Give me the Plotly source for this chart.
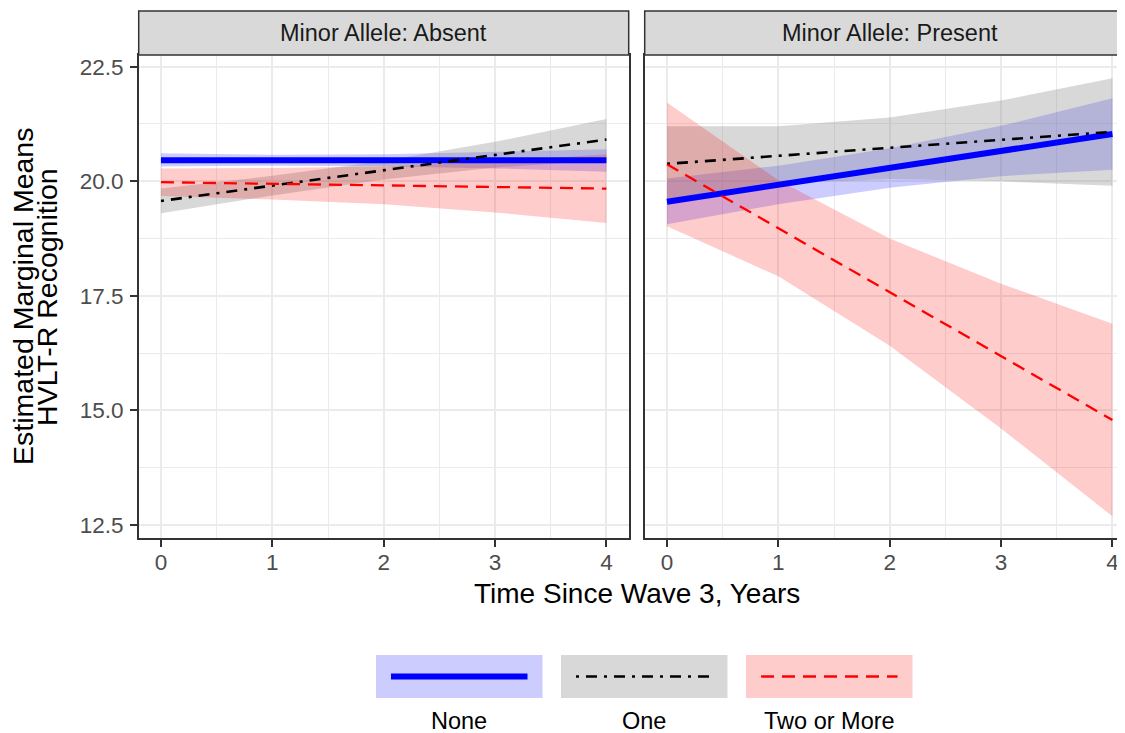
import plotly.graph_objects as go

# ---------------- data ----------------
time_years = [0, 1, 2, 3, 4]
groups = ["None", "One", "Two or More"]
panels = ["Minor Allele: Absent", "Minor Allele: Present"]

# Panel: Minor Allele Absent
absent_none_mean = [20.46, 20.46, 20.46, 20.46, 20.46]
absent_none_low = [20.32, 20.34, 20.33, 20.28, 20.21]
absent_none_high = [20.61, 20.58, 20.59, 20.64, 20.70]

absent_one_mean = [19.57, 19.905, 20.24, 20.575, 20.91]
absent_one_low = [19.30, 19.69, 20.04, 20.30, 20.46]
absent_one_high = [19.84, 20.12, 20.44, 20.86, 21.36]

absent_two_mean = [19.98, 19.945, 19.91, 19.875, 19.84]
absent_two_low = [19.68, 19.60, 19.50, 19.32, 19.09]
absent_two_high = [20.28, 20.29, 20.32, 20.43, 20.59]

# Panel: Minor Allele Present
present_none_mean = [19.555, 19.92, 20.29, 20.66, 21.03]
present_none_low = [19.06, 19.50, 19.86, 20.11, 20.25]
present_none_high = [20.06, 20.34, 20.72, 21.21, 21.81]

present_one_mean = [20.38, 20.555, 20.73, 20.905, 21.08]
present_one_low = [19.56, 19.95, 20.05, 20.00, 19.90]
present_one_high = [21.20, 21.20, 21.39, 21.76, 22.25]

present_two_mean = [20.37, 18.975, 17.58, 16.185, 14.79]
present_two_low = [19.02, 17.925, 16.41, 14.605, 12.69]
present_two_high = [21.72, 20.025, 18.75, 17.765, 16.89]

x_ticks = [0, 1, 2, 3, 4]
x_ticktext = ["0", "1", "2", "3", "4"]
y_ticks = [12.5, 15.0, 17.5, 20.0, 22.5]
y_ticktext = ["12.5", "15.0", "17.5", "20.0", "22.5"]

x_title = "Time Since Wave 3, Years"
y_title_lines = ["Estimated Marginal Means", "HVLT-R Recognition"]

# ---------------- styles ----------------
SCREEN_W, SCREEN_H = 1125, 733
OFF = 8  # default page body margin
FW, FH = SCREEN_W - OFF, SCREEN_H - OFF
FONT = "Liberation Sans, Arial, Helvetica, sans-serif"
line_styles = {
    "None": dict(color="#0000ff", width=6, dash="solid"),
    "One": dict(color="#000000", width=2.6, dash="3px,7px,11px,7px"),
    "Two or More": dict(color="#ff0000", width=2.3, dash="13px,8px"),
}
fill_colors = {
    "None": "rgba(0,0,255,0.2)",
    "One": "rgba(127,127,127,0.3)",
    "Two or More": "rgba(255,0,0,0.2)",
}

data = {
    ("x", "y"): {
        "None": (absent_none_mean, absent_none_low, absent_none_high),
        "One": (absent_one_mean, absent_one_low, absent_one_high),
        "Two or More": (absent_two_mean, absent_two_low, absent_two_high),
    },
    ("x2", "y2"): {
        "None": (present_none_mean, present_none_low, present_none_high),
        "One": (present_one_mean, present_one_low, present_one_high),
        "Two or More": (present_two_mean, present_two_low, present_two_high),
    },
}

def px(v):
    return (v - OFF) / FW

def py(v):
    return 1 - (v - OFF) / FH

fig = go.Figure()

for (xa, ya), series in data.items():
    for g in groups:
        m, lo, hi = series[g]
        fig.add_trace(go.Scatter(
            x=time_years + time_years[::-1],
            y=hi + lo[::-1],
            fill="toself", fillcolor=fill_colors[g],
            line=dict(width=0), mode="lines",
            hoverinfo="skip", showlegend=False,
            xaxis=xa, yaxis=ya,
        ))
    for g in groups:
        m, lo, hi = series[g]
        fig.add_trace(go.Scatter(
            x=time_years, y=m, mode="lines",
            line=line_styles[g], name=g, showlegend=False,
            xaxis=xa, yaxis=ya,
        ))

# panel geometry (screen pixels)
p1_l, p1_r = 138.7, 628.7
p2_l = 644.7
p_top, p_bot = 55.0, 538.3
strip_top = 11.0
unit = (p1_r - p1_l) / 4.4
x2_max = -0.2 + (SCREEN_W - p2_l) / unit
p2_full_r = p2_l + 4.4 * unit

y_lo = 12.5 - (p_bot - 525.0) / 45.83
y_hi = 22.5 + (66.7 - p_top) / 45.83

grid_major = "#ebebeb"
border = "#333333"
tickfont = dict(family=FONT, size=22.5, color="#4d4d4d")

common_x = dict(
    showgrid=True, gridcolor=grid_major, gridwidth=2,
    zeroline=False, showline=True, linecolor=border, linewidth=1.5,
    ticks="outside", ticklen=7, tickwidth=2, tickcolor=border,
    tickvals=x_ticks, ticktext=x_ticktext, tickfont=tickfont,
    minor=dict(dtick=0.5, tick0=0, showgrid=True, gridcolor=grid_major, gridwidth=1, ticks=""),
    ticklabelstandoff=-4,
)
common_y = dict(
    showgrid=True, gridcolor=grid_major, gridwidth=2,
    zeroline=False, showline=True, linecolor=border, linewidth=1.5,
    range=[y_lo, y_hi], tickvals=y_ticks, ticktext=y_ticktext,
    minor=dict(dtick=1.25, tick0=12.5, showgrid=True, gridcolor=grid_major, gridwidth=1, ticks=""),
)

fig.update_layout(
    width=FW, height=FH,
    margin=dict(l=0, r=0, t=0, b=0),
    paper_bgcolor="white", plot_bgcolor="white",
    font=dict(family=FONT),
    showlegend=False,
    xaxis=dict(domain=[px(p1_l), px(p1_r)], range=[-0.2, 4.2], mirror=True, anchor="y", **common_x),
    xaxis2=dict(domain=[px(p2_l), 1.0], range=[-0.2, x2_max], mirror=True, anchor="y2", **common_x),
    yaxis=dict(domain=[py(p_bot), py(p_top)], anchor="x", mirror=True,
               ticks="outside", ticklen=7, tickwidth=2, tickcolor=border,
               tickfont=tickfont, ticklabelstandoff=2, **common_y),
    yaxis2=dict(domain=[py(p_bot), py(p_top)], anchor="x2", mirror=False, matches="y",
                showticklabels=False, ticks="", **common_y),
)

shapes = []
annotations = []
for (l, r, label, cx) in [(p1_l, p1_r, panels[0], (p1_l + p1_r) / 2),
                          (p2_l, SCREEN_W + 10, panels[1], (p2_l + p2_full_r) / 2)]:
    shapes.append(dict(type="rect", xref="paper", yref="paper",
                       x0=px(l), x1=px(r), y0=py(p_top), y1=py(strip_top),
                       fillcolor="#d9d9d9", line=dict(color=border, width=1.5), layer="above"))
    annotations.append(dict(xref="paper", yref="paper", x=px(cx), y=py((strip_top + p_top) / 2),
                            text=label, showarrow=False, xanchor="center", yanchor="middle",
                            font=dict(family=FONT, size=23.5, color="#1a1a1a")))

annotations.append(dict(xref="paper", yref="paper", x=px((p1_l + p2_full_r) / 2), y=py(593.5),
                        text=x_title, showarrow=False, xanchor="center", yanchor="middle",
                        font=dict(family=FONT, size=28, color="#000000")))
for txt, cx in zip(y_title_lines, [22.3, 46.3]):
    annotations.append(dict(xref="paper", yref="paper", x=px(cx), y=py((p_top + p_bot) / 2),
                            text=txt, showarrow=False, textangle=-90,
                            xanchor="center", yanchor="middle",
                            font=dict(family=FONT, size=28.5, color="#000000")))

key_w, key_gap = 166.5, 18.5
key_left0 = 376.0
key_top, key_bot = 655.0, 698.0
for i, g in enumerate(groups):
    kl = key_left0 + i * (key_w + key_gap)
    kr = kl + key_w
    shapes.append(dict(type="rect", xref="paper", yref="paper",
                       x0=px(kl), x1=px(kr), y0=py(key_bot), y1=py(key_top),
                       fillcolor=fill_colors[g], line=dict(width=0)))
    shapes.append(dict(type="line", xref="paper", yref="paper",
                       x0=px(kl + 15), x1=px(kr - 15),
                       y0=py((key_top + key_bot) / 2), y1=py((key_top + key_bot) / 2),
                       line=line_styles[g]))
    annotations.append(dict(xref="paper", yref="paper", x=px((kl + kr) / 2), y=py(721),
                            text=g, showarrow=False, xanchor="center", yanchor="middle",
                            font=dict(family=FONT, size=23.5, color="#000000")))

fig.update_layout(shapes=shapes, annotations=annotations)
fig.write_html("out.html")
